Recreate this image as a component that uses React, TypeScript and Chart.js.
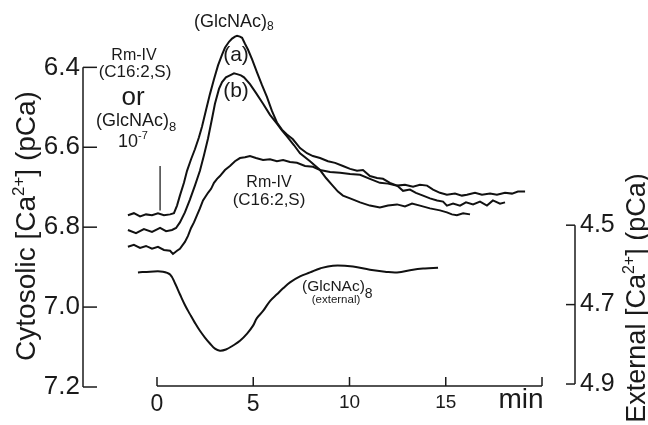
import React, { useEffect, useRef } from "react";
import { Chart, registerables } from "chart.js";

Chart.register(...registerables);

const FONT = '"Liberation Sans", Arial, sans-serif';

// ---- Data (time in min, cytosolic pCa on left axis, external pCa on right axis)
const timeA = [-1.51,-1.2,-0.88,-0.57,-0.26,0.05,0.36,0.68,0.88,1.04,1.19,1.4,1.56,1.77,1.97,2.18,2.34,2.55,2.75,2.96,3.17,3.38,3.53,3.74,3.9,4.05,4.16,4.31,4.42,4.57,4.73,4.94,5.19,5.45,5.71,5.97,6.23,6.49,6.75,7.06,7.43,7.79,8.1,8.47,8.88,9.25,9.66,10.03,10.39,10.7,11.06,11.43,11.74,12.1,12.47,12.78,13.14,13.45,13.82,14.18,14.55,14.86,15.06,15.38,15.74,16.05,16.42,16.78,17.14,17.45,17.82,18.08];
const valuesA = [6.770,6.765,6.773,6.768,6.770,6.765,6.770,6.768,6.765,6.746,6.721,6.689,6.659,6.630,6.605,6.575,6.548,6.506,6.467,6.430,6.395,6.368,6.351,6.336,6.328,6.323,6.321,6.323,6.326,6.341,6.356,6.380,6.412,6.444,6.474,6.509,6.538,6.556,6.568,6.580,6.602,6.615,6.622,6.627,6.635,6.639,6.647,6.654,6.659,6.657,6.672,6.677,6.679,6.689,6.696,6.709,6.706,6.714,6.721,6.728,6.733,6.736,6.746,6.741,6.746,6.738,6.743,6.736,6.746,6.733,6.741,6.738];

const timeB = [-1.51,-1.09,-0.68,-0.26,0.16,0.47,0.78,0.99,1.19,1.45,1.71,1.97,2.23,2.44,2.65,2.86,3.01,3.22,3.38,3.58,3.79,4.0,4.16,4.36,4.52,4.83,5.14,5.51,5.87,6.23,6.49,6.75,7.12,7.43,7.95,8.47,8.78,9.09,9.4,9.66,10.03,10.55,11.06,11.58,12.0,12.47,12.88,13.25,13.66,14.18,14.7,15.06,15.32,15.58,15.9,16.26];
const valuesB = [6.807,6.815,6.805,6.812,6.802,6.810,6.807,6.802,6.788,6.763,6.731,6.696,6.659,6.620,6.578,6.528,6.491,6.454,6.437,6.425,6.420,6.415,6.417,6.420,6.425,6.442,6.464,6.491,6.519,6.541,6.558,6.573,6.595,6.615,6.635,6.657,6.677,6.694,6.711,6.721,6.728,6.738,6.746,6.751,6.746,6.743,6.748,6.741,6.746,6.753,6.758,6.763,6.768,6.770,6.765,6.768];

const timeRm = [-1.51,-1.2,-0.88,-0.57,-0.26,0.05,0.36,0.68,0.83,1.04,1.19,1.45,1.61,1.77,1.92,2.08,2.23,2.39,2.65,2.81,2.96,3.12,3.27,3.53,3.79,4.05,4.31,4.57,4.83,5.14,5.51,5.87,6.23,6.55,6.91,7.27,7.69,8.1,8.47,8.99,9.51,10.03,10.55,11.06,11.58,12.0,12.47,12.88,13.3,13.66,14.03,14.34,14.7,15.06,15.48,15.84,16.1,16.52,16.88,17.3,17.66,18.08,18.44,18.75,19.12];
const valuesRm = [6.849,6.844,6.852,6.847,6.854,6.849,6.857,6.859,6.867,6.859,6.854,6.837,6.822,6.802,6.788,6.770,6.753,6.733,6.714,6.704,6.689,6.679,6.672,6.657,6.647,6.635,6.627,6.625,6.622,6.627,6.632,6.630,6.635,6.632,6.637,6.639,6.647,6.649,6.657,6.662,6.664,6.667,6.669,6.679,6.689,6.691,6.696,6.694,6.699,6.694,6.696,6.706,6.714,6.719,6.716,6.721,6.719,6.714,6.719,6.716,6.719,6.714,6.716,6.711,6.711];

const timeExt = [-0.99,-0.36,0.31,0.68,0.94,1.19,1.45,1.71,1.97,2.23,2.49,2.75,3.01,3.27,3.58,3.95,4.31,4.68,4.99,5.19,5.51,5.87,6.23,6.55,6.91,7.43,7.95,8.47,9.14,10.18,11.06,11.84,12.47,13.3,13.92,14.6];
const valuesExt = [4.619,4.617,4.617,4.624,4.647,4.674,4.701,4.724,4.746,4.766,4.783,4.798,4.811,4.816,4.813,4.803,4.791,4.773,4.753,4.734,4.716,4.691,4.674,4.659,4.644,4.629,4.619,4.609,4.602,4.604,4.612,4.617,4.619,4.612,4.609,4.607];

const stimulusTime = [0.16, 0.16];
const stimulusValues = [6.647, 6.758];

const leftTicks = [6.4, 6.6, 6.8, 7.0, 7.2];
const rightTicks = [4.5, 4.7, 4.9];
const xTicks = [0, 5, 10, 15];
const xAxisTicks = [0, 5, 10, 15, 20];

const toPoints = (t: number[], v: number[]) => t.map((x, i) => ({ x, y: v[i] }));

type Part = { t: string; size: number; dy?: number };

function drawRich(ctx: CanvasRenderingContext2D, x: number, y: number, parts: Part[], align: "left" | "center" = "left") {
  let total = 0;
  const widths = parts.map((p) => {
    ctx.font = `${p.size}px ${FONT}`;
    const w = ctx.measureText(p.t).width;
    total += w;
    return w;
  });
  let cx = align === "center" ? x - total / 2 : x;
  ctx.textAlign = "left";
  ctx.textBaseline = "alphabetic";
  parts.forEach((p, i) => {
    ctx.font = `${p.size}px ${FONT}`;
    ctx.fillText(p.t, cx, y + (p.dy || 0));
    cx += widths[i];
  });
}

const axesPlugin = {
  id: "customAxes",
  afterDatasetsDraw(chart: any) {
    const ctx: CanvasRenderingContext2D = chart.ctx;
    const ys = chart.scales.y;
    const y2 = chart.scales.y2;
    const xs = chart.scales.x;
    const area = chart.chartArea;
    ctx.save();
    ctx.strokeStyle = "#1a1a1a";
    ctx.lineWidth = 1.5;
    const line = (x1: number, y1: number, x2: number, y2p: number) => {
      ctx.beginPath();
      ctx.moveTo(x1, y1);
      ctx.lineTo(x2, y2p);
      ctx.stroke();
    };
    // left axis
    const lx = area.left;
    line(lx, ys.getPixelForValue(leftTicks[0]), lx, ys.getPixelForValue(leftTicks[leftTicks.length - 1]));
    leftTicks.forEach((v) => {
      const py = ys.getPixelForValue(v);
      line(lx, py, lx + 14, py);
    });
    // right axis
    const rx = area.right;
    line(rx, y2.getPixelForValue(rightTicks[0]), rx, y2.getPixelForValue(rightTicks[rightTicks.length - 1]));
    rightTicks.forEach((v) => {
      const py = y2.getPixelForValue(v);
      line(rx - 9, py, rx, py);
    });
    // x axis
    const by = ys.getPixelForValue(7.2) - 1;
    line(xs.getPixelForValue(xAxisTicks[0]), by, xs.getPixelForValue(xAxisTicks[xAxisTicks.length - 1]), by);
    xAxisTicks.forEach((v) => {
      const px = xs.getPixelForValue(v);
      line(px, by, px, by - 9);
    });

    // texts
    ctx.fillStyle = "#1a1a1a";
    ctx.save();
    ctx.translate(35, 226);
    ctx.rotate(-Math.PI / 2);
    drawRich(ctx, 0, 0, [
      { t: "Cytosolic [Ca", size: 28 },
      { t: "2+", size: 17, dy: -11 },
      { t: "] (pCa)", size: 28 },
    ], "center");
    ctx.restore();

    ctx.save();
    ctx.translate(645, 298);
    ctx.rotate(-Math.PI / 2);
    drawRich(ctx, 0, 0, [
      { t: "External [Ca", size: 27 },
      { t: "2+", size: 16, dy: -11 },
      { t: "] (pCa)", size: 27 },
    ], "center");
    ctx.restore();

    drawRich(ctx, 521, 408, [{ t: "min", size: 28 }], "center");

    // top label
    drawRich(ctx, 194, 27, [
      { t: "(GlcNAc)", size: 18 },
      { t: "8", size: 12, dy: 3 },
    ]);
    drawRich(ctx, 236, 61, [{ t: "(a)", size: 21 }], "center");
    drawRich(ctx, 236, 97, [{ t: "(b)", size: 21 }], "center");

    // left annotation block
    drawRich(ctx, 134, 60, [{ t: "Rm-IV", size: 16 }], "center");
    drawRich(ctx, 135, 77, [{ t: "(C16:2,S)", size: 17 }], "center");
    drawRich(ctx, 133, 105, [{ t: "or", size: 26 }], "center");
    drawRich(ctx, 96, 126, [
      { t: "(GlcNAc)", size: 18 },
      { t: "8", size: 13, dy: 5 },
    ]);
    drawRich(ctx, 118, 147, [
      { t: "10", size: 18 },
      { t: "-7", size: 11, dy: -8 },
    ]);

    // middle annotation
    drawRich(ctx, 269, 187, [{ t: "Rm-IV", size: 16 }], "center");
    drawRich(ctx, 269, 205, [{ t: "(C16:2,S)", size: 17 }], "center");

    // external label
    drawRich(ctx, 302, 291, [
      { t: "(GlcNAc)", size: 15.5 },
      { t: "8", size: 14, dy: 7 },
    ]);
    drawRich(ctx, 336, 303, [{ t: "(external)", size: 11.5 }], "center");

    ctx.restore();
  },
};

export default function App() {
  const ref = useRef<HTMLCanvasElement | null>(null);

  useEffect(() => {
    document.body.style.margin = "0";
    if (!ref.current) return;
    const lineStyle = {
      borderColor: "#111",
      borderWidth: 2,
      pointRadius: 0,
      fill: false,
      tension: 0,
    };
    const chart = new Chart(ref.current, {
      type: "line",
      data: {
        datasets: [
          { ...lineStyle, label: "(GlcNAc)8 (a)", data: toPoints(timeA, valuesA), yAxisID: "y" },
          { ...lineStyle, label: "(GlcNAc)8 (b)", data: toPoints(timeB, valuesB), yAxisID: "y" },
          { ...lineStyle, label: "Rm-IV (C16:2,S)", data: toPoints(timeRm, valuesRm), yAxisID: "y" },
          { ...lineStyle, label: "(GlcNAc)8 external", data: toPoints(timeExt, valuesExt), yAxisID: "y2", tension: 0.4 },
          { ...lineStyle, label: "stimulus", data: toPoints(stimulusTime, stimulusValues), yAxisID: "y", borderWidth: 1.2 },
        ],
      },
      options: {
        responsive: false,
        animation: false,
        events: [],
        layout: { padding: { top: 15, bottom: 0, left: 0, right: 0 } },
        plugins: { legend: { display: false }, tooltip: { enabled: false } },
        scales: {
          x: {
            type: "linear",
            min: -3.844,
            max: 21.714,
            grid: { display: false, drawTicks: false },
            border: { display: false },
            afterBuildTicks: (scale: any) => {
              scale.ticks = xTicks.map((v) => ({ value: v }));
            },
            afterFit: (scale: any) => {
              scale.height = 38;
            },
            ticks: {
              padding: 4,
              color: "#1a1a1a",
              maxRotation: 0,
              autoSkip: false,
              font: (c: any) => ({ family: FONT, size: c.tick && c.tick.value < 10 ? 23 : 19 }),
              callback: (v: any) => String(v),
            },
          },
          y: {
            type: "linear",
            position: "left",
            reverse: true,
            min: 6.2815,
            max: 7.2,
            grid: { display: false, drawTicks: false },
            border: { display: false },
            afterBuildTicks: (scale: any) => {
              scale.ticks = leftTicks.map((v) => ({ value: v }));
            },
            afterFit: (scale: any) => {
              scale.width = 83;
            },
            ticks: {
              padding: 3,
              color: "#1a1a1a",
              autoSkip: false,
              font: { family: FONT, size: 26 },
              callback: (v: any) => Number(v).toFixed(1),
            },
          },
          y2: {
            type: "linear",
            position: "right",
            reverse: true,
            min: 3.9833,
            max: 4.9075,
            grid: { display: false, drawTicks: false },
            border: { display: false },
            afterBuildTicks: (scale: any) => {
              scale.ticks = rightTicks.map((v) => ({ value: v }));
            },
            afterFit: (scale: any) => {
              scale.width = 73;
            },
            ticks: {
              padding: 5,
              color: "#1a1a1a",
              autoSkip: false,
              font: { family: FONT, size: 25 },
              callback: (v: any) => Number(v).toFixed(1),
            },
          },
        },
      },
      plugins: [axesPlugin],
    });
    return () => chart.destroy();
  }, []);

  return (
    <div style={{ width: 648, height: 425, background: "#fff" }}>
      <canvas ref={ref} width={648} height={425} style={{ display: "block", width: 648, height: 425 }} />
    </div>
  );
}
